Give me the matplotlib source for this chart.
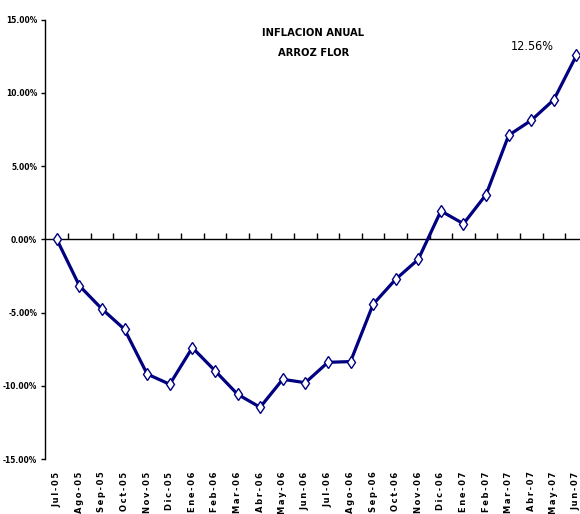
import matplotlib
matplotlib.use('Agg')
import matplotlib.pyplot as plt
from matplotlib.ticker import FuncFormatter

# Datos (inflacion anual, %)
meses = ['Jul-05', 'Ago-05', 'Sep-05', 'Oct-05', 'Nov-05', 'Dic-05',
         'Ene-06', 'Feb-06', 'Mar-06', 'Abr-06', 'May-06', 'Jun-06',
         'Jul-06', 'Ago-06', 'Sep-06', 'Oct-06', 'Nov-06', 'Dic-06',
         'Ene-07', 'Feb-07', 'Mar-07', 'Abr-07', 'May-07', 'Jun-07']
inflacion = [0.00, -3.17, -4.76, -6.15, -9.20, -9.90,
             -7.40, -8.97, -10.58, -11.47, -9.56, -9.79,
             -8.40, -8.35, -4.44, -2.73, -1.37, 1.93,
             1.06, 3.05, 7.10, 8.12, 9.53, 12.56]
y_ticks = [-15, -10, -5, 0, 5, 10, 15]

fuente = ['DejaVu Sans']
azul = '#000080'

fig = plt.figure(figsize=(5.8, 5.14), dpi=100)
ax = fig.add_axes([0.0784, 0.107, 0.935, 0.855])

x = list(range(len(meses)))
ax.plot(x, inflacion, color=azul, linewidth=2.3, marker='d', markersize=6.5,
        markerfacecolor='white', markeredgecolor=azul, markeredgewidth=1, zorder=3)

ax.set_xlim(-0.5, len(meses) - 0.5)
ax.set_ylim(-15, 15)

# eje horizontal en cero con marcas entre categorias
ax.axhline(0, color='black', linewidth=1, zorder=2)
ax.plot([i + 0.5 for i in x[:-1]], [0] * (len(x) - 1), linestyle='none',
        marker=2, markersize=4, color='black', markeredgewidth=1, zorder=2)

for lado in ['top', 'right', 'bottom']:
    ax.spines[lado].set_visible(False)
ax.spines['left'].set_linewidth(1)

ax.set_yticks(y_ticks)
ax.yaxis.set_major_formatter(FuncFormatter(lambda v, p: f'{v:.2f}%'))
ax.tick_params(axis='y', direction='out', length=3, width=1, pad=3)
for t in ax.get_yticklabels():
    t.set_fontfamily(fuente)
    t.set_fontweight('bold')
    t.set_fontstretch('condensed')
    t.set_fontsize(6)

# etiquetas espaciadas como en el original (espacio fino entre letras)
ax.set_xticks(x)
ax.set_xticklabels(['\u2009'.join(m) for m in meses], rotation=90, va='top', ha='center',
                   fontfamily=fuente, fontweight='bold', fontstretch='condensed',
                   fontsize=6.7)
ax.tick_params(axis='x', length=0, pad=9)

fig.text(0.54, 0.936, 'INFLACION ANUAL', ha='center', va='center',
         fontfamily=fuente, fontweight='bold', fontstretch='condensed', fontsize=8)
fig.text(0.54, 0.897, 'ARROZ FLOR', ha='center', va='center',
         fontfamily=fuente, fontweight='bold', fontstretch='condensed', fontsize=8)

ax.annotate(f'{inflacion[-1]:.2f}%', xy=(x[-1], inflacion[-1]), xytext=(-32, 6),
            textcoords='offset points', ha='center', va='center',
            fontfamily=fuente, fontstretch='condensed', fontsize=9)

fig.savefig('out.png', dpi=100)
